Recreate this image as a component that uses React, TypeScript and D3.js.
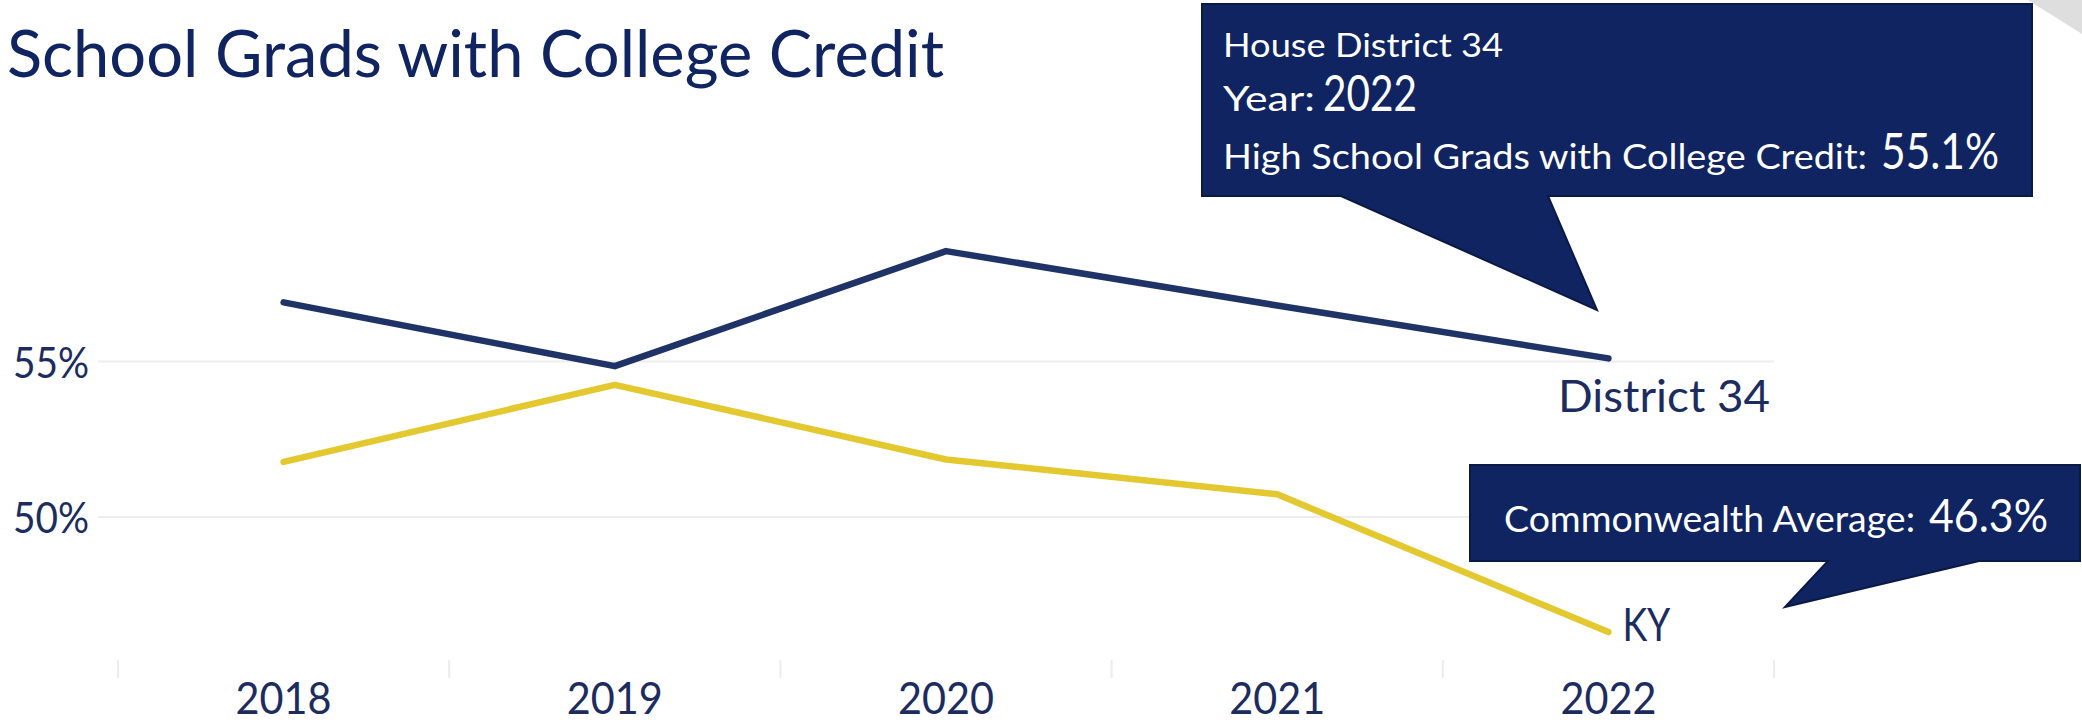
import React from "react";
import * as d3 from "d3";

const years = ["2018", "2019", "2020", "2021", "2022"];
const district34 = [56.9, 54.85, 58.55, 56.8, 55.1];
const kyAverage = [51.77, 54.25, 51.85, 50.73, 46.3];
const yTicks = [50, 55];
const yTickLabels = ["50%", "55%"];

const W = 2082;
const H = 722;
const FONT = "Lato, 'Open Sans', 'DejaVu Sans', sans-serif";
const NAVY = "#1f3366";
const YELLOW = "#e3c82f";
const TEXT = "#1c2c5e";
const TIP = "#0f2461";

export default function App() {
  const x = d3.scaleBand<string>().domain(years).range([118, 1774]).padding(0);
  const cx = (i: number) => (x(years[i]) as number) + x.bandwidth() / 2;
  const y = d3.scaleLinear().domain([50, 55]).range([517, 361.5]);

  const line = d3
    .line<number>()
    .x((_, i) => cx(i))
    .y((d) => y(d));

  const boundaries = [...years.map((yr) => x(yr) as number), 1774];
  const last = years.length - 1;

  return (
    <svg
      width={W}
      height={H}
      viewBox={`0 0 ${W} ${H}`}
      style={{ position: "absolute", left: 0, top: 0, display: "block", background: "#fff" }}
      fontFamily={FONT}
    >
      {/* corner decoration */}
      <polygon points="2028,0 2082,0 2082,34" fill="#dedede" />

      {/* title */}
      <text x={7} y={77} fontSize={65} fill="#0f2460" textLength={937} lengthAdjust="spacingAndGlyphs">
        School Grads with College Credit
      </text>

      {/* gridlines */}
      {yTicks.map((t) => (
        <line key={t} x1={98} x2={1774} y1={y(t)} y2={y(t)} stroke="#eeeeee" strokeWidth={2} />
      ))}
      {yTicks.map((t, i) => (
        <text
          key={"l" + t}
          x={89}
          y={y(t) + 16}
          fontSize={43}
          fill={TEXT}
          textAnchor="end"
          textLength={76}
          lengthAdjust="spacingAndGlyphs"
        >
          {yTickLabels[i]}
        </text>
      ))}

      {/* x axis separators */}
      {boundaries.map((b, i) => (
        <line key={"b" + i} x1={b} x2={b} y1={660} y2={678} stroke="#ececec" strokeWidth={2} />
      ))}
      {years.map((yr, i) => (
        <text
          key={yr}
          x={cx(i)}
          y={714}
          fontSize={44}
          fill={TEXT}
          textAnchor="middle"
          textLength={96}
          lengthAdjust="spacingAndGlyphs"
        >
          {yr}
        </text>
      ))}

      {/* lines */}
      <path d={line(kyAverage) || ""} fill="none" stroke={YELLOW} strokeWidth={6.5} strokeLinecap="round" strokeLinejoin="round" />
      <path d={line(district34) || ""} fill="none" stroke={NAVY} strokeWidth={6.5} strokeLinecap="round" strokeLinejoin="round" />

      {/* series labels */}
      <text x={1770} y={y(district34[last]) + 54} fontSize={45} fill={TEXT} textAnchor="end" textLength={212} lengthAdjust="spacingAndGlyphs">
        District 34
      </text>
      <text x={cx(last) + 14} y={y(kyAverage[last]) + 9} fontSize={47} fill={TEXT} textLength={48} lengthAdjust="spacingAndGlyphs">
        KY
      </text>

      {/* tooltip 1 */}
      <path
        d="M1202,4 H2032 V196 H1548 L1597,310 L1341,196 H1202 Z"
        fill={TIP}
        stroke="#0a1a45"
        strokeWidth={2}
      />
      <text x={1223} y={57} fontSize={33} fill="#fff" textLength={280} lengthAdjust="spacingAndGlyphs">
        House District 34
      </text>
      <text x={1223} y={111} fontSize={34} fill="#fff" textLength={92} lengthAdjust="spacingAndGlyphs">
        Year:
      </text>
      <text x={1323} y={111} fontSize={50} fill="#fff" textLength={94} lengthAdjust="spacingAndGlyphs">
        {years[last]}
      </text>
      <text x={1223} y={169} fontSize={35} fill="#fff" textLength={644} lengthAdjust="spacingAndGlyphs">
        High School Grads with College Credit:
      </text>
      <text x={1881} y={169} fontSize={50} fill="#fff" textLength={118} lengthAdjust="spacingAndGlyphs">
        {district34[last].toFixed(1) + "%"}
      </text>

      {/* tooltip 2 */}
      <path
        d="M1470,465 H2080 V561 H1979 L1785,607 L1828,561 H1470 Z"
        fill={TIP}
        stroke="#0a1a45"
        strokeWidth={2}
      />
      <text x={1504} y={532} fontSize={36} fill="#fff" textLength={411} lengthAdjust="spacingAndGlyphs">
        Commonwealth Average:
      </text>
      <text x={1929} y={532} fontSize={46} fill="#fff" textLength={119} lengthAdjust="spacingAndGlyphs">
        {kyAverage[last].toFixed(1) + "%"}
      </text>
    </svg>
  );
}
